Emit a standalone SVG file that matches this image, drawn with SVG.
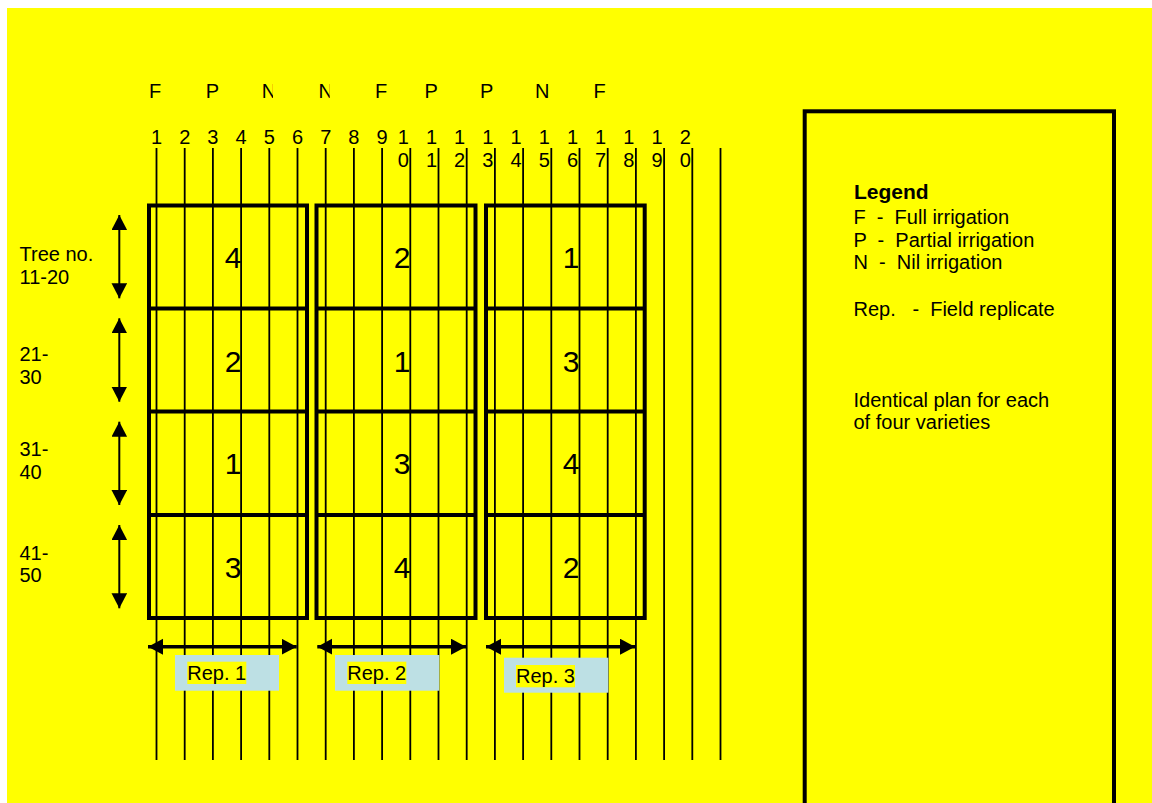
<svg xmlns="http://www.w3.org/2000/svg" width="1152" height="803" viewBox="0 0 1152 803">
<style>
text{font-family:"Liberation Sans",Arial,sans-serif;fill:#000}
.t{font-size:20px}
.h{font-size:20px}
.big{font-size:30px;text-anchor:middle}
.mid{text-anchor:middle}
.end{text-anchor:end}
.gl{stroke:#000;stroke-width:1.8}
.blk{fill:none;stroke:#000;stroke-width:4}
.div{stroke:#000;stroke-width:4}
.va{stroke:#000;stroke-width:2;marker-start:url(#ahV);marker-end:url(#ahV)}
.ha{stroke:#000;stroke-width:3.5;marker-start:url(#ahH);marker-end:url(#ahH)}
.rep{fill:#BDE0E4}
.hl{fill:#FFFF00}
</style>
<defs>
<marker id="ahV" markerUnits="userSpaceOnUse" markerWidth="16" markerHeight="16" refX="15" refY="7.8" orient="auto-start-reverse" viewBox="0 0 16 16"><path d="M0,0 L15,7.8 L0,15.6 z" fill="#000"/></marker>
<marker id="ahH" markerUnits="userSpaceOnUse" markerWidth="16" markerHeight="17" refX="15" refY="8" orient="auto-start-reverse" viewBox="0 0 16 17"><path d="M0,0 L15,8 L0,16 z" fill="#000"/></marker>
<clipPath id="cN1"><rect x="250" y="70" width="23" height="40"/></clipPath>
<clipPath id="cN2"><rect x="305" y="70" width="24.7" height="40"/></clipPath>
</defs>
<rect x="0" y="0" width="1152" height="803" fill="#fff"/>
<rect x="7" y="8" width="1145" height="795" fill="#FFFF00"/>

<g id="connectors">
<g id="grid-lines">
<line class="gl" x1="156.5" y1="148" x2="156.5" y2="760"/>
<line class="gl" x1="184.7" y1="148" x2="184.7" y2="760"/>
<line class="gl" x1="212.9" y1="148" x2="212.9" y2="760"/>
<line class="gl" x1="241.1" y1="148" x2="241.1" y2="760"/>
<line class="gl" x1="269.3" y1="148" x2="269.3" y2="760"/>
<line class="gl" x1="297.5" y1="148" x2="297.5" y2="760"/>
<line class="gl" x1="325.7" y1="148" x2="325.7" y2="760"/>
<line class="gl" x1="353.9" y1="148" x2="353.9" y2="760"/>
<line class="gl" x1="382.1" y1="148" x2="382.1" y2="760"/>
<line class="gl" x1="410.3" y1="148" x2="410.3" y2="760"/>
<line class="gl" x1="438.5" y1="148" x2="438.5" y2="760"/>
<line class="gl" x1="466.7" y1="148" x2="466.7" y2="760"/>
<line class="gl" x1="494.9" y1="148" x2="494.9" y2="760"/>
<line class="gl" x1="523.1" y1="148" x2="523.1" y2="760"/>
<line class="gl" x1="551.3" y1="148" x2="551.3" y2="760"/>
<line class="gl" x1="579.5" y1="148" x2="579.5" y2="760"/>
<line class="gl" x1="607.7" y1="148" x2="607.7" y2="760"/>
<line class="gl" x1="635.9" y1="148" x2="635.9" y2="760"/>
<line class="gl" x1="664.1" y1="148" x2="664.1" y2="760"/>
<line class="gl" x1="692.3" y1="148" x2="692.3" y2="760"/>
<line class="gl" x1="720.5" y1="148" x2="720.5" y2="760"/>
</g>
<g id="row-arrows">
<line class="va" x1="119.3" y1="215" x2="119.3" y2="298.3"/>
<line class="va" x1="119.3" y1="318.3" x2="119.3" y2="401.7"/>
<line class="va" x1="119.3" y1="421.7" x2="119.3" y2="505"/>
<line class="va" x1="119.3" y1="525" x2="119.3" y2="608.3"/>
</g>
<g id="rep-arrows">
<line class="ha" x1="148" y1="646.7" x2="296.7" y2="646.7"/>
<line class="ha" x1="317.3" y1="646.7" x2="466" y2="646.7"/>
<line class="ha" x1="486" y1="646.7" x2="635" y2="646.7"/>
</g>
</g>

<g id="rep1-block">
<rect class="blk" x="149" y="205.5" width="158" height="412.5"/>
<line class="div" x1="149" y1="308.5" x2="307" y2="308.5"/>
<line class="div" x1="149" y1="411.5" x2="307" y2="411.5"/>
<line class="div" x1="149" y1="515" x2="307" y2="515"/>
<text class="big" x="233" y="268">4</text>
<text class="big" x="233" y="371.5">2</text>
<text class="big" x="233" y="474">1</text>
<text class="big" x="233" y="578">3</text>
</g>
<g id="rep2-block">
<rect class="blk" x="316.5" y="205.5" width="159" height="412.5"/>
<line class="div" x1="316.5" y1="308.5" x2="475.5" y2="308.5"/>
<line class="div" x1="316.5" y1="411.5" x2="475.5" y2="411.5"/>
<line class="div" x1="316.5" y1="515" x2="475.5" y2="515"/>
<text class="big" x="402" y="268">2</text>
<text class="big" x="402" y="371.5">1</text>
<text class="big" x="402" y="474">3</text>
<text class="big" x="402" y="578">4</text>
</g>
<g id="rep3-block">
<rect class="blk" x="486" y="205.5" width="158.7" height="412.5"/>
<line class="div" x1="486" y1="308.5" x2="644.7" y2="308.5"/>
<line class="div" x1="486" y1="411.5" x2="644.7" y2="411.5"/>
<line class="div" x1="486" y1="515" x2="644.7" y2="515"/>
<text class="big" x="571" y="268">1</text>
<text class="big" x="571" y="371.5">3</text>
<text class="big" x="571" y="474">4</text>
<text class="big" x="571" y="578">2</text>
</g>

<g id="rep1-label">
<rect class="rep" x="175" y="655" width="104" height="35.7"/>
<rect class="hl" x="187.3" y="661.7" width="59" height="22.3"/>
<text class="t" x="187.3" y="679.8">Rep. 1</text>
</g>
<g id="rep2-label">
<rect class="rep" x="335" y="655" width="104.3" height="35.7"/>
<rect class="hl" x="347.3" y="661.7" width="59" height="22.3"/>
<text class="t" x="347.3" y="679.8">Rep. 2</text>
</g>
<g id="rep3-label">
<rect class="rep" x="504" y="657.7" width="104.3" height="35"/>
<rect class="hl" x="516" y="665" width="59" height="22.3"/>
<text class="t" x="516" y="683.1">Rep. 3</text>
</g>

<g id="treatment-header">
<text class="h" x="149" y="97.7">F</text>
<text class="h" x="205.7" y="97.7">P</text>
<text class="h" x="261.8" y="97.7" clip-path="url(#cN1)">N</text>
<text class="h" x="318.5" y="97.7" clip-path="url(#cN2)">N</text>
<text class="h" x="375" y="97.7">F</text>
<text class="h" x="424.5" y="97.7">P</text>
<text class="h" x="480" y="97.7">P</text>
<text class="h" x="535" y="97.7">N</text>
<text class="h" x="593.4" y="97.7">F</text>
</g>

<g id="column-numbers">
<text class="h mid" x="156.5" y="144">1</text>
<text class="h mid" x="184.7" y="144">2</text>
<text class="h mid" x="212.9" y="144">3</text>
<text class="h mid" x="241.1" y="144">4</text>
<text class="h mid" x="269.3" y="144">5</text>
<text class="h mid" x="297.5" y="144">6</text>
<text class="h mid" x="325.7" y="144">7</text>
<text class="h mid" x="353.9" y="144">8</text>
<text class="h mid" x="382.1" y="144">9</text>
<text class="h end" x="408.8" y="144">1</text><text class="h end" x="408.8" y="167">0</text>
<text class="h end" x="437" y="144">1</text><text class="h end" x="437" y="167">1</text>
<text class="h end" x="465.2" y="144">1</text><text class="h end" x="465.2" y="167">2</text>
<text class="h end" x="493.4" y="144">1</text><text class="h end" x="493.4" y="167">3</text>
<text class="h end" x="521.6" y="144">1</text><text class="h end" x="521.6" y="167">4</text>
<text class="h end" x="549.8" y="144">1</text><text class="h end" x="549.8" y="167">5</text>
<text class="h end" x="578" y="144">1</text><text class="h end" x="578" y="167">6</text>
<text class="h end" x="606.2" y="144">1</text><text class="h end" x="606.2" y="167">7</text>
<text class="h end" x="634.4" y="144">1</text><text class="h end" x="634.4" y="167">8</text>
<text class="h end" x="662.6" y="144">1</text><text class="h end" x="662.6" y="167">9</text>
<text class="h end" x="690.8" y="144">2</text><text class="h end" x="690.8" y="167">0</text>
</g>

<g id="row-labels">
<text class="t" x="19.5" y="261">Tree no.</text>
<text class="t" x="19.5" y="284">11-20</text>
<text class="t" x="19.5" y="361">21-</text>
<text class="t" x="19.5" y="384">30</text>
<text class="t" x="19.5" y="455.7">31-</text>
<text class="t" x="19.5" y="478.5">40</text>
<text class="t" x="19.5" y="560">41-</text>
<text class="t" x="19.5" y="582">50</text>
</g>

<g id="legend">
<rect x="804.7" y="111.3" width="309.3" height="720" fill="none" stroke="#000" stroke-width="4"/>
<text class="t" x="854" y="199" font-weight="bold" style="font-size:21px">Legend</text>
<text class="t" x="853.5" y="224" xml:space="preserve">F  -  Full irrigation</text>
<text class="t" x="853.5" y="246.7" xml:space="preserve">P  -  Partial irrigation</text>
<text class="t" x="853.5" y="269.3" xml:space="preserve">N  -  Nil irrigation</text>
<text class="t" x="853.5" y="316" xml:space="preserve">Rep.   -  Field replicate</text>
<text class="t" x="853.5" y="406.7">Identical plan for each</text>
<text class="t" x="853.5" y="429.3">of four varieties</text>
</g>
</svg>
